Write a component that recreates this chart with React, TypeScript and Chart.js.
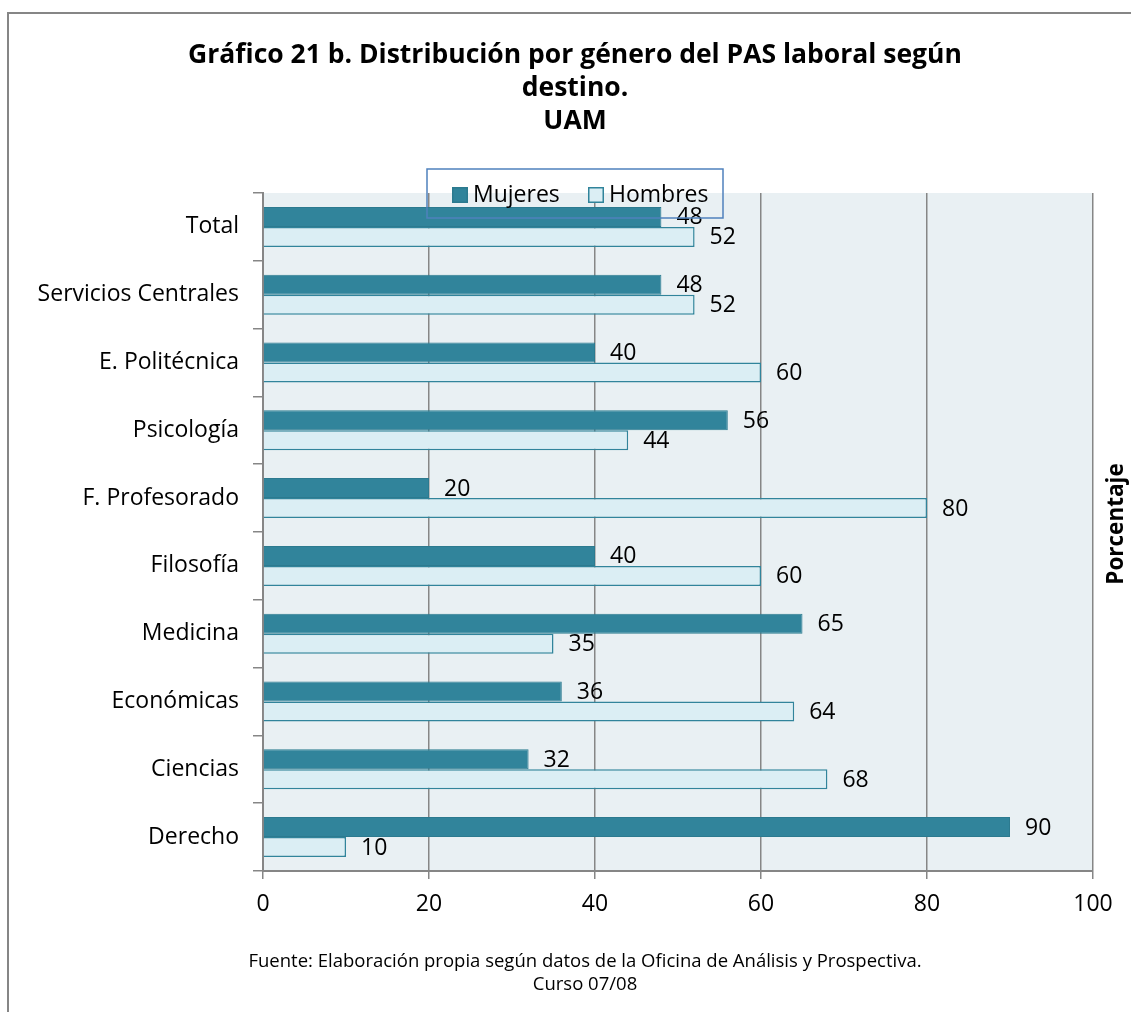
import React, { useEffect, useRef } from "react";
import { Chart, registerables } from "chart.js";

Chart.register(...registerables);

const categories = [
  "Total",
  "Servicios Centrales",
  "E. Politécnica",
  "Psicología",
  "F. Profesorado",
  "Filosofía",
  "Medicina",
  "Económicas",
  "Ciencias",
  "Derecho",
];
const seriesNames = ["Mujeres", "Hombres"];
const mujeres = [48, 48, 40, 56, 20, 40, 65, 36, 32, 90];
const hombres = [52, 52, 60, 44, 80, 60, 35, 64, 68, 10];
const xMin = 0;
const xMax = 100;
const xStep = 20;
const titleLines = [
  "Gráfico 21 b. Distribución por género del PAS laboral según",
  "destino.",
  "UAM",
];
const axisTitle = "Porcentaje";
const footerLines = [
  "Fuente: Elaboración propia según datos de la Oficina de Análisis y Prospectiva.",
  "Curso 07/08",
];

const FONT = "'Open Sans', 'Noto Sans', sans-serif";
const DARK = "#31849B";
const LIGHT = "#DBEEF4";
const GRID = "#868686";
const PLOT_BG = "#E9F0F3";

const decorPlugin = {
  id: "decor",
  beforeDraw(chart: any) {
    const { ctx, chartArea } = chart;
    ctx.save();
    ctx.fillStyle = "#ffffff";
    ctx.fillRect(0, 0, chart.width, chart.height);
    ctx.strokeStyle = GRID;
    ctx.lineWidth = 2;
    ctx.beginPath();
    ctx.moveTo(8, chart.height);
    ctx.lineTo(8, 13);
    ctx.lineTo(chart.width, 13);
    ctx.stroke();
    ctx.fillStyle = PLOT_BG;
    ctx.fillRect(
      chartArea.left,
      chartArea.top,
      chartArea.right - chartArea.left,
      chartArea.bottom - chartArea.top
    );
    ctx.restore();
  },
  afterDatasetsDraw(chart: any) {
    const { ctx } = chart;
    ctx.save();
    ctx.fillStyle = "#000000";
    ctx.font = `23px ${FONT}`;
    ctx.textAlign = "left";
    ctx.textBaseline = "middle";
    chart.data.datasets.forEach((ds: any, i: number) => {
      const meta = chart.getDatasetMeta(i);
      meta.data.forEach((bar: any, j: number) => {
        ctx.fillText(String(ds.data[j]), bar.x + 15, bar.y + 1);
      });
    });
    ctx.restore();
  },
  afterDraw(chart: any) {
    const { ctx } = chart;
    ctx.save();
    ctx.fillStyle = "#000000";
    ctx.textAlign = "center";
    ctx.textBaseline = "alphabetic";
    ctx.font = `bold 26.5px ${FONT}`;
    const titleBase = [63, 96, 129];
    titleLines.forEach((t, i) => ctx.fillText(t, 575, titleBase[i]));
    ctx.font = `18.5px ${FONT}`;
    ctx.textBaseline = "middle";
    ctx.fillText(footerLines[0], 585, 962);
    ctx.fillText(footerLines[1], 585, 985);
    ctx.save();
    ctx.translate(1117, 524);
    ctx.rotate(-Math.PI / 2);
    ctx.font = `bold 22.5px ${FONT}`;
    ctx.fillText(axisTitle, 0, 0);
    ctx.restore();
    const colors = chart.data.datasets.map((d: any) => d.backgroundColor);
    const borders = chart.data.datasets.map((d: any) => d.borderColor);
    ctx.strokeStyle = "#4F81BD";
    ctx.lineWidth = 1.5;
    ctx.strokeRect(427, 169, 296, 49);
    ctx.font = `23px ${FONT}`;
    ctx.textAlign = "left";
    ctx.textBaseline = "middle";
    const boxX = [452, 588];
    seriesNames.forEach((name, i) => {
      ctx.fillStyle = colors[i];
      ctx.fillRect(boxX[i], 187, 16, 16);
      ctx.strokeStyle = borders[i];
      ctx.lineWidth = 1.5;
      ctx.strokeRect(boxX[i] + 0.75, 187.75, 14.5, 14.5);
      ctx.fillStyle = "#000000";
      ctx.fillText(name, boxX[i] + 21, 195);
    });
    ctx.restore();
  },
};

export default function App() {
  const ref = useRef<HTMLCanvasElement | null>(null);
  useEffect(() => {
    if (!ref.current) return;
    Chart.defaults.font.family = FONT;
    const chart = new Chart(ref.current, {
      type: "bar",
      data: {
        labels: categories,
        datasets: [
          {
            label: seriesNames[0],
            data: mujeres,
            backgroundColor: DARK,
            borderColor: "#2C7A8F",
            borderWidth: 1,
            barPercentage: 1,
            categoryPercentage: 0.59,
          },
          {
            label: seriesNames[1],
            data: hombres,
            backgroundColor: LIGHT,
            borderColor: DARK,
            borderWidth: 1.5,
            barPercentage: 1,
            categoryPercentage: 0.59,
          },
        ],
      },
      options: {
        indexAxis: "y",
        responsive: false,
        animation: false,
        devicePixelRatio: 1,
        layout: { padding: { top: 193, right: 38, left: 0, bottom: 0 } },
        plugins: {
          legend: { display: false },
          title: { display: false },
          tooltip: { enabled: false },
        },
        scales: {
          x: {
            min: xMin,
            max: xMax,
            ticks: {
              stepSize: xStep,
              color: "#000000",
              font: { size: 23, family: FONT },
              padding: 12,
            },
            grid: {
              color: GRID,
              lineWidth: 1.5,
              tickLength: 8,
              drawTicks: true,
            },
            border: { display: true, color: GRID, width: 2 },
            afterFit: (scale: any) => {
              scale.height = 141;
            },
          },
          y: {
            ticks: {
              color: "#000000",
              font: { size: 23, family: FONT },
              padding: 14,
            },
            grid: {
              drawOnChartArea: false,
              drawTicks: true,
              tickLength: 10,
              offset: true,
              color: GRID,
              lineWidth: 1.5,
            },
            border: { display: true, color: GRID, width: 2 },
            afterFit: (scale: any) => {
              scale.width = 263;
            },
          },
        },
      },
      plugins: [decorPlugin],
    } as any);
    return () => chart.destroy();
  }, []);
  return (
    <div style={{ position: "absolute", left: 0, top: 0, width: 1131, height: 1012 }}>
      <canvas ref={ref} width={1131} height={1012} />
    </div>
  );
}
